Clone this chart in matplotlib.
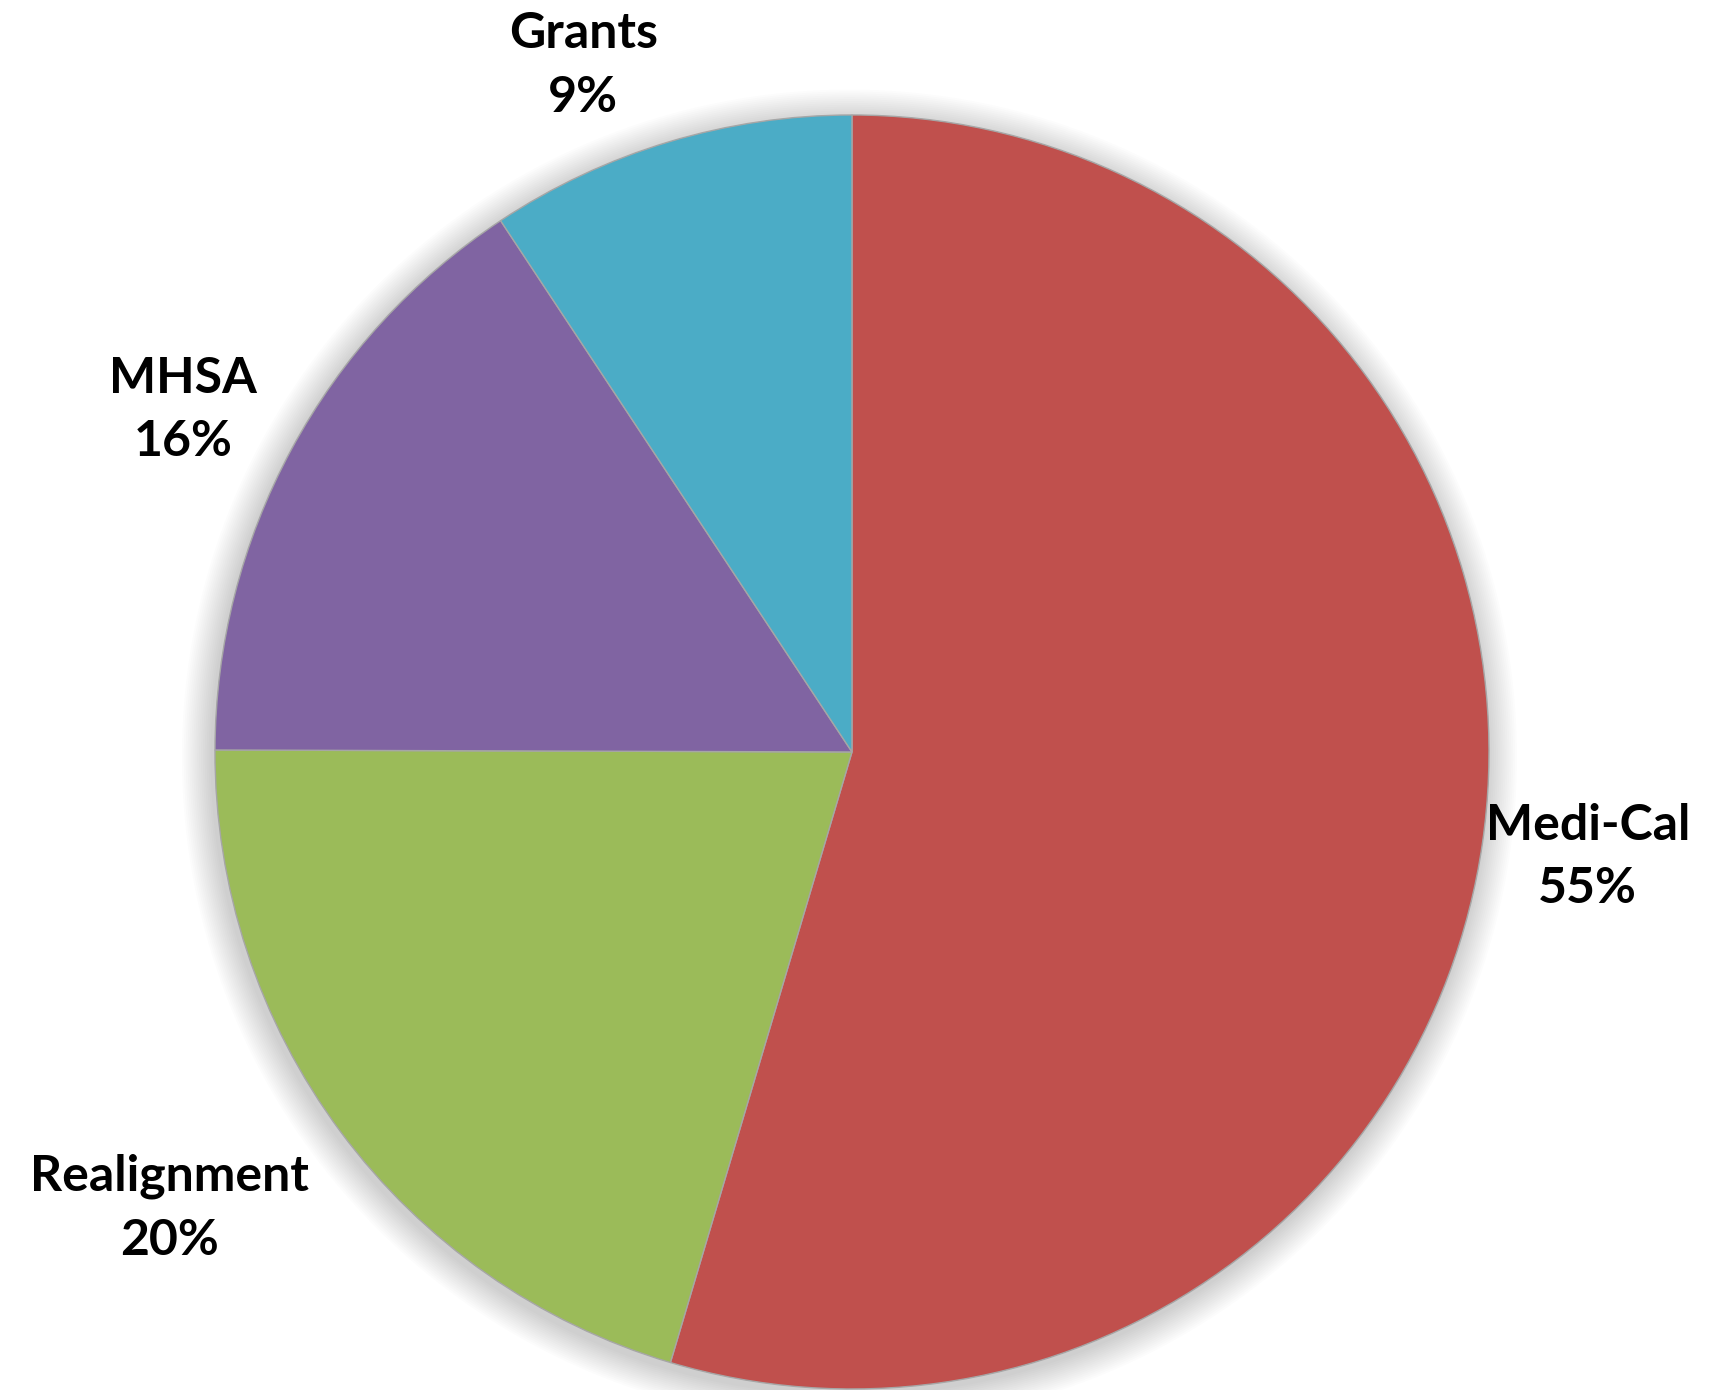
import numpy as np
import matplotlib
matplotlib.use("Agg")
import matplotlib.pyplot as plt
from matplotlib.patches import Circle

# funding sources, clockwise from 12 o'clock
sources = ["Medi-Cal", "Realignment", "MHSA", "Grants"]
shares = [54.6, 20.45, 15.65, 9.3]
labels_pct = ["55%", "20%", "16%", "9%"]
colors = ["#C0504D", "#9BBB59", "#8064A2", "#4BACC6"]
label_pos = [(1.155, -0.165), (-1.072, -0.716), (-1.050, 0.537), (-0.422, 1.078)]

fig = plt.figure(figsize=(17.29, 13.90), dpi=100)
ax = fig.add_axes([0, 0, 1, 1])

# soft outer shadow
for i in range(16):
    r = 1.0 + 0.003 * (16 - i)
    ax.add_patch(Circle((-0.004, -0.008), r, color="black", alpha=0.011, lw=0, zorder=1))

wedges, _ = ax.pie(shares, colors=colors, startangle=90, counterclock=False,
                   radius=1.0, center=(0, 0), frame=True,
                   wedgeprops=dict(edgecolor="#A6A6A6", linewidth=1.0))
for w in wedges:
    w.set_zorder(2)

ax.set_xlim(-1.3375, 1.3768)
ax.set_ylim(-1.0016, 1.1805)
ax.set_aspect("equal")
ax.axis("off")

for name, pct, (x, y) in zip(sources, labels_pct, label_pos):
    ax.text(x, y, f"{name}\n{pct}", ha="center", va="center",
            fontsize=36, fontweight="bold", family=["Lato", "DejaVu Sans"],
            linespacing=1.5, color="black", zorder=3)

fig.savefig("out.png", dpi=100)
